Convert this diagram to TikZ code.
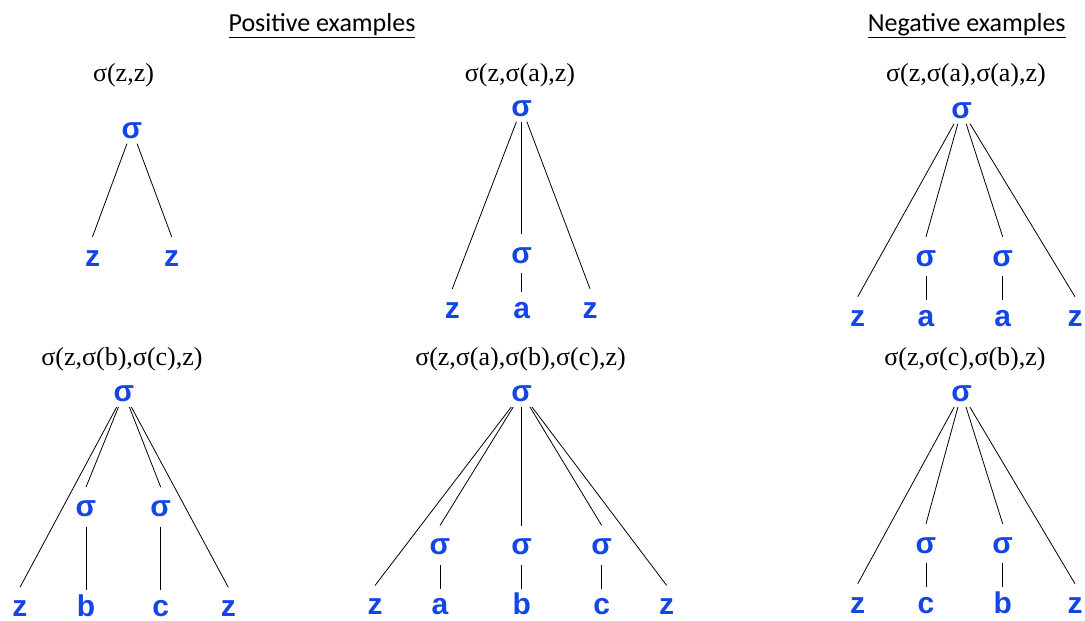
\documentclass[tikz,border=0pt]{standalone}
\usepackage{fontspec}
\setmainfont{Liberation Serif}
\newfontfamily\hdfont{Carlito}
\newfontfamily\trfont{Liberation Sans}
\definecolor{tblue}{RGB}{20,70,230}
\begin{document}
\begin{tikzpicture}[x=1pt,y=-1pt,
  hd/.style={font=\hdfont\fontsize{26}{30}\selectfont, anchor=base, inner sep=0},
  lbl/.style={font=\fontsize{26}{30}\selectfont, anchor=base, inner sep=0},
  tn/.style={font=\trfont\bfseries\fontsize{30}{32}\selectfont, text=tblue, inner sep=0, text height=16pt, text depth=0pt, minimum height=36pt},
  rt/.style={tn, minimum height=27pt, minimum width=40pt},
  edge/.style={draw=black, line width=0.8pt}]
\useasboundingbox (0,0) rectangle (1085,621);

% headers
\node[hd] (hpos) at (322,31.5) {\underline{Positive examples}};
\node[hd] (hneg) at (966.7,31.5) {\underline{Negative examples}};

% tree 1
\node[lbl] (l1) at (123.5,81.5) {σ(z,z)};
\node[rt] (r1) at (132,130) {σ};
\node[tn] (r1z1) at (92.5,258) {z};
\node[tn] (r1z2) at (171.7,258) {z};
\draw[edge] (r1) -- ([yshift=3pt]r1z1.north);
\draw[edge] (r1) -- ([yshift=3pt]r1z2.north);

% tree 2
\node[lbl] (l2) at (520,81.5) {σ(z,σ(a),z)};
\node[rt] (r2) at (521.7,108) {σ};
\node[tn] (r2s) at (521.7,255) {σ};
\node[tn] (r2z1) at (452.3,310) {z};
\node[tn] (r2a) at (521.7,310) {a};
\node[tn] (r2z2) at (590,310) {z};
\draw[edge] (r2) -- ([yshift=3pt]r2z1.north);
\draw[edge] (r2) -- ([yshift=3pt]r2s.north);
\draw[edge] (r2) -- ([yshift=3pt]r2z2.north);
\draw[edge] (r2s) -- (r2a);

% tree 3
\node[lbl] (l3) at (966,81) {σ(z,σ(a),σ(a),z)};
\node[rt] (r3) at (961.7,110) {σ};
\node[tn] (r3s1) at (926,258) {σ};
\node[tn] (r3s2) at (1002.7,258) {σ};
\node[tn] (r3z1) at (857.7,318) {z};
\node[tn] (r3a1) at (926,318) {a};
\node[tn] (r3a2) at (1002.7,318) {a};
\node[tn] (r3z2) at (1075,318) {z};
\draw[edge] (r3) -- ([yshift=3pt]r3z1.north);
\draw[edge] (r3) -- ([yshift=3pt]r3s1.north);
\draw[edge] (r3) -- ([yshift=3pt]r3s2.north);
\draw[edge] (r3) -- ([yshift=3pt]r3z2.north);
\draw[edge] (r3s1) -- (r3a1);
\draw[edge] (r3s2) -- (r3a2);

% tree 4
\node[lbl] (l4) at (122,365) {σ(z,σ(b),σ(c),z)};
\node[rt] (r4) at (124,393.3) {σ};
\node[tn] (r4s1) at (86,508.3) {σ};
\node[tn] (r4s2) at (160.7,508.3) {σ};
\node[tn] (r4z1) at (20,608.5) {z};
\node[tn] (r4b) at (86,608.5) {b};
\node[tn] (r4c) at (160.7,608.5) {c};
\node[tn] (r4z2) at (228.3,608.5) {z};
\draw[edge] (r4) -- ([yshift=3pt]r4z1.north);
\draw[edge] (r4) -- ([yshift=3pt]r4s1.north);
\draw[edge] (r4) -- ([yshift=3pt]r4s2.north);
\draw[edge] (r4) -- ([yshift=3pt]r4z2.north);
\draw[edge] (r4s1) -- (r4b);
\draw[edge] (r4s2) -- (r4c);

% tree 5
\node[lbl] (l5) at (520.5,365) {σ(z,σ(a),σ(b),σ(c),z)};
\node[rt] (r5) at (521.7,393.3) {σ};
\node[tn] (r5s1) at (440,546.7) {σ};
\node[tn] (r5s2) at (521.7,546.7) {σ};
\node[tn] (r5s3) at (601.7,546.7) {σ};
\node[tn] (r5z1) at (375,606.7) {z};
\node[tn] (r5a) at (440,606.7) {a};
\node[tn] (r5b) at (521.7,606.7) {b};
\node[tn] (r5c) at (601.7,606.7) {c};
\node[tn] (r5z2) at (666.7,606.7) {z};
\draw[edge] (r5) -- ([yshift=3pt]r5z1.north);
\draw[edge] (r5) -- ([yshift=3pt]r5s1.north);
\draw[edge] (r5) -- ([yshift=3pt]r5s2.north);
\draw[edge] (r5) -- ([yshift=3pt]r5s3.north);
\draw[edge] (r5) -- ([yshift=3pt]r5z2.north);
\draw[edge] (r5s1) -- (r5a);
\draw[edge] (r5s2) -- (r5b);
\draw[edge] (r5s3) -- (r5c);

% tree 6
\node[lbl] (l6) at (965,365) {σ(z,σ(c),σ(b),z)};
\node[rt] (r6) at (961.7,393.3) {σ};
\node[tn] (r6s1) at (926,545) {σ};
\node[tn] (r6s2) at (1002.7,545) {σ};
\node[tn] (r6z1) at (857.7,605) {z};
\node[tn] (r6c) at (926,605) {c};
\node[tn] (r6b) at (1002.7,605) {b};
\node[tn] (r6z2) at (1075,605) {z};
\draw[edge] (r6) -- ([yshift=3pt]r6z1.north);
\draw[edge] (r6) -- ([yshift=3pt]r6s1.north);
\draw[edge] (r6) -- ([yshift=3pt]r6s2.north);
\draw[edge] (r6) -- ([yshift=3pt]r6z2.north);
\draw[edge] (r6s1) -- (r6c);
\draw[edge] (r6s2) -- (r6b);
\end{tikzpicture}
\end{document}
